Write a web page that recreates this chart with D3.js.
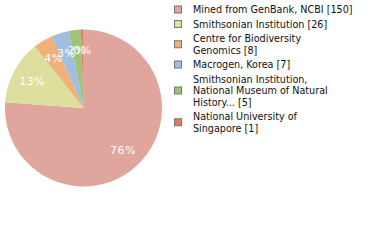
<!DOCTYPE html>
<html><head><meta charset="utf-8">
<script src="https://cdn.jsdelivr.net/npm/d3@7"></script>
<style>html,body{margin:0;padding:0;background:#fff;}</style>
</head><body>
<svg id="c" width="380" height="240"></svg>
<script>
const categories = ["Mined from GenBank, NCBI", "Smithsonian Institution", "Centre for Biodiversity Genomics", "Macrogen, Korea", "Smithsonian Institution, National Museum of Natural History...", "National University of Singapore"];
const legendLines = [["Mined from GenBank, NCBI [150]"], ["Smithsonian Institution [26]"], ["Centre for Biodiversity", "Genomics [8]"], ["Macrogen, Korea [7]"], ["Smithsonian Institution,", "National Museum of Natural", "History... [5]"], ["National University of", "Singapore [1]"]];
const values = [150, 26, 8, 7, 5, 1];
const colors = ["#e0a69e", "#dde09c", "#f0b07a", "#a0bee0", "#9ec47c", "#de7a5e"];

const svg = d3.select("#c");
const cx = 83.5, cy = 108, r = 78.5;
const total = d3.sum(values);
const pie = d3.pie().sort(null).value(d => d)(values);
const arc = d3.arc().innerRadius(0).outerRadius(r);
const labelArc = d3.arc().innerRadius(58).outerRadius(58);
const g = svg.append("g").attr("transform", `translate(${cx},${cy})`);
g.selectAll("path").data(pie).join("path")
  .attr("d", arc).attr("fill", (d, i) => colors[i]);
g.selectAll("text").data(pie).join("text")
  .attr("transform", d => `translate(${labelArc.centroid(d)})`)
  .attr("text-anchor", "middle").attr("dy", "0.35em")
  .attr("fill", "#fff").attr("font-family", "DejaVu Sans").attr("font-size", 11)
  .attr("letter-spacing", 0.5)
  .text(d => Math.floor(d.value / total * 100) + "%");

const L = 11.5, gap = 3;
let y = 9.5 - L / 2;
const lg = svg.append("g");
legendLines.forEach((lines, i) => {
  const h = lines.length * L;
  const mid = y + h / 2;
  lg.append("rect").attr("x", 174.5).attr("y", mid - 3.5).attr("width", 7).attr("height", 7)
    .attr("fill", colors[i]).attr("stroke", "#777").attr("stroke-width", 1);
  lines.forEach((t, j) => {
    lg.append("text").attr("x", 193).attr("y", y + L * j + L / 2).attr("dy", "0.35em")
      .attr("font-family", "DejaVu Sans Condensed, DejaVu Sans").attr("font-size", 10.7).attr("fill", "#111")
      .text(t);
  });
  y += h + gap;
});
</script>
</body></html>
